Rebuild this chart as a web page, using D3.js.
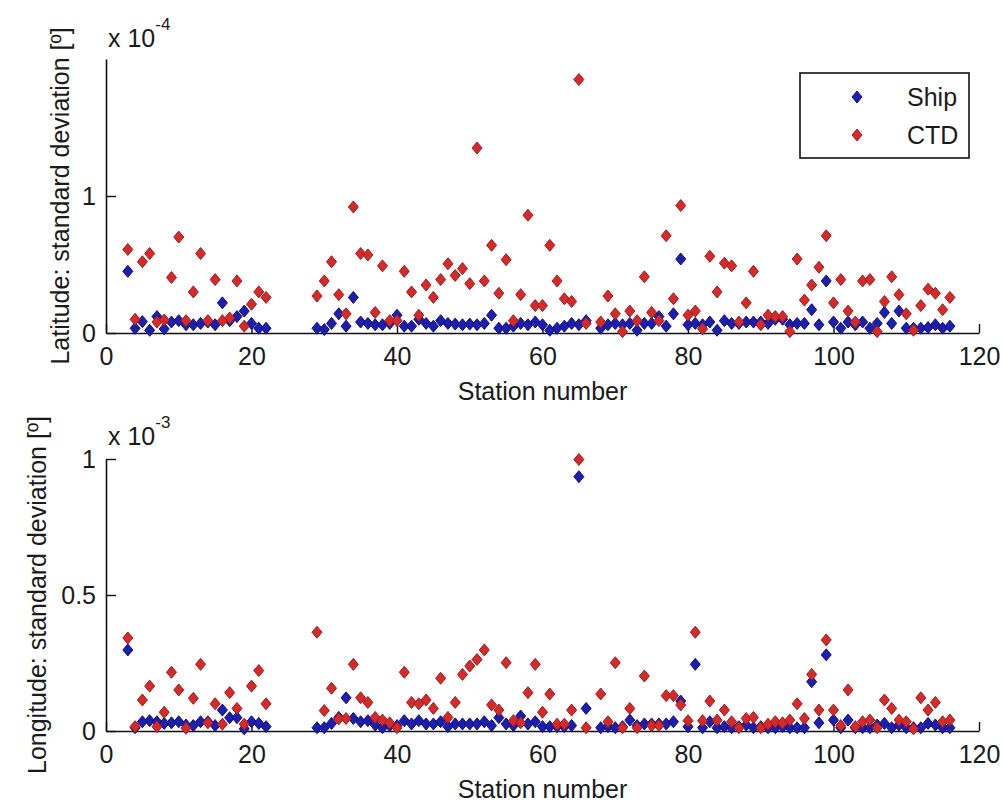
<!DOCTYPE html>
<html>
<head>
<meta charset="utf-8">
<script src="https://cdn.jsdelivr.net/npm/d3@7"></script>
<style>
  html, body { margin: 0; padding: 0; background: #fff; }
  svg { display: block; }
  text { font-family: "Liberation Sans", Arial, Helvetica, sans-serif; fill: #1a1a1a; }
</style>
</head>
<body>
<svg id="chart" width="1002" height="803"></svg>
<script>
// Station numbers (no stations 23-28 and 67)
const stations = [
  3,4,5,6,7,8,9,10,11,12,13,14,15,16,17,18,19,20,21,22,
  29,30,31,32,33,34,35,36,37,38,39,40,41,42,43,44,45,46,47,48,49,50,
  51,52,53,54,55,56,57,58,59,60,61,62,63,64,65,66,
  68,69,70,71,72,73,74,75,76,77,78,79,80,81,82,83,84,85,86,87,88,89,90,
  91,92,93,94,95,96,97,98,99,100,101,102,103,104,105,106,107,108,109,110,
  111,112,113,114,115,116
];

// Latitude standard deviation, in units of 1e-4 degrees
const latExponent = -4;
const shipLat = [
  0.45,0.034,0.083,0.02,0.12,0.03,0.08,0.09,0.06,0.06,0.07,0.08,0.06,0.22,0.09,0.12,0.16,0.07,0.035,0.035,
  0.035,0.025,0.07,0.14,0.05,0.26,0.08,0.07,0.06,0.06,0.07,0.13,0.05,0.05,0.10,0.07,0.05,0.09,0.07,0.065,0.06,0.065,
  0.06,0.07,0.13,0.035,0.035,0.05,0.07,0.06,0.08,0.06,0.02,0.035,0.05,0.07,0.06,0.09,
  0.035,0.06,0.07,0.06,0.07,0.02,0.07,0.07,0.12,0.05,0.14,0.54,0.06,0.07,0.06,0.08,0.02,0.09,0.07,0.07,0.08,0.08,0.08,
  0.07,0.10,0.10,0.06,0.07,0.07,0.17,0.06,0.38,0.08,0.035,0.08,0.06,0.08,0.035,0.07,0.15,0.07,0.16,0.035,
  0.035,0.035,0.04,0.06,0.035,0.05
];
const ctdLat = [
  0.61,0.10,0.52,0.58,0.08,0.095,0.405,0.70,0.09,0.30,0.58,0.09,0.39,0.09,0.11,0.38,0.05,0.21,0.30,0.26,
  0.27,0.38,0.52,0.28,0.14,0.92,0.58,0.57,0.15,0.49,0.09,0.09,0.45,0.30,0.13,0.35,0.26,0.39,0.505,0.42,0.47,0.36,
  1.35,0.38,0.64,0.29,0.535,0.09,0.28,0.86,0.20,0.20,0.64,0.38,0.25,0.23,1.85,0.07,
  0.08,0.27,0.14,0.01,0.16,0.09,0.41,0.15,0.09,0.71,0.25,0.93,0.13,0.16,0.03,0.56,0.30,0.51,0.49,0.08,0.22,0.45,0.06,
  0.13,0.12,0.12,0.01,0.54,0.24,0.35,0.48,0.71,0.22,0.39,0.16,0.08,0.38,0.39,0.01,0.23,0.41,0.28,0.14,
  0.02,0.20,0.32,0.29,0.17,0.26
];

// Longitude standard deviation, in units of 1e-3 degrees
const lonExponent = -3;
const shipLon = [
  0.298,0.012,0.034,0.038,0.034,0.028,0.03,0.034,0.022,0.02,0.034,0.034,0.02,0.077,0.049,0.049,0.008,0.034,0.028,0.016,
  0.012,0.012,0.028,0.05,0.122,0.046,0.034,0.038,0.022,0.012,0.02,0.02,0.038,0.026,0.038,0.026,0.026,0.034,0.016,0.026,0.026,0.026,
  0.026,0.034,0.02,0.049,0.026,0.02,0.055,0.026,0.034,0.016,0.016,0.016,0.016,0.02,0.935,0.083,
  0.012,0.016,0.012,0.016,0.04,0.02,0.026,0.026,0.026,0.026,0.034,0.11,0.016,0.245,0.012,0.034,0.012,0.016,0.012,0.016,0.022,0.012,0.016,
  0.012,0.012,0.016,0.012,0.012,0.012,0.181,0.03,0.28,0.04,0.012,0.04,0.012,0.012,0.012,0.022,0.028,0.012,0.022,0.012,
  0.012,0.012,0.028,0.022,0.012,0.012
];
const ctdLon = [
  0.342,0.016,0.114,0.165,0.016,0.069,0.216,0.151,0.01,0.12,0.245,0.03,0.1,0.025,0.141,0.083,0.025,0.165,0.222,0.1,
  0.363,0.075,0.157,0.045,0.046,0.245,0.122,0.105,0.05,0.04,0.03,0.012,0.216,0.105,0.1,0.114,0.083,0.194,0.05,0.105,0.208,0.239,
  0.263,0.298,0.096,0.077,0.251,0.038,0.03,0.141,0.245,0.069,0.136,0.025,0.025,0.077,0.998,0.012,
  0.136,0.034,0.251,0.012,0.083,0.012,0.202,0.02,0.02,0.13,0.13,0.096,0.038,0.363,0.038,0.11,0.04,0.077,0.034,0.012,0.046,0.05,0.012,
  0.025,0.034,0.03,0.04,0.1,0.046,0.208,0.077,0.335,0.077,0.02,0.151,0.016,0.034,0.04,0.012,0.114,0.083,0.04,0.034,
  0.008,0.122,0.077,0.105,0.034,0.04
];

const xTicks = [0, 20, 40, 60, 80, 100, 120];
const latTicks = [0, 1];
const lonTicks = [0, 0.5, 1];
const seriesNames = ["Ship", "CTD"];
const xLabel = "Station number";
const latLabel = "Latitude: standard deviation [º]";
const lonLabel = "Longitude: standard deviation [º]";

const colors = {
  Ship: { fill: "#1e1eae", stroke: "#10107a" },
  CTD:  { fill: "#d62a2a", stroke: "#9c1e1e" }
};

const svg = d3.select("#chart");
const FONT = 25;

const x = d3.scaleLinear().domain([0, 120]).range([106, 979]);

// diamond marker centred at (cx, cy)
function diamond(cx, cy) {
  const w = 5, h = 6;
  return `M${cx},${cy - h}L${cx + w},${cy}L${cx},${cy + h}L${cx - w},${cy}Z`;
}

function fmt(v) { return v === 0 ? "0" : (Number.isInteger(v) ? String(v) : String(v)); }

function drawPanel(opts) {
  const { y, yTicks, ship, ctd, ylabel, ylabelX, exponent, expY } = opts;
  const g = svg.append("g");

  // x axis (ticks point inward)
  const xAxis = d3.axisBottom(x).tickValues(xTicks).tickSizeInner(-9).tickSizeOuter(0)
    .tickPadding(14).tickFormat(d3.format("d"));
  const gx = g.append("g").attr("transform", `translate(0,${y.range()[0]})`).call(xAxis);

  // y axis (ticks point inward)
  const yAxis = d3.axisLeft(y).tickValues(yTicks).tickSizeInner(-10).tickSizeOuter(0)
    .tickPadding(10).tickFormat(fmt);
  const gy = g.append("g").attr("transform", `translate(${x.range()[0]},0)`).call(yAxis);

  [gx, gy].forEach(a => {
    a.select(".domain").attr("stroke", "#111").attr("stroke-width", 1.6);
    a.selectAll(".tick line").attr("stroke", "#111").attr("stroke-width", 1.4);
    a.selectAll(".tick text").attr("font-size", FONT)
      .attr("font-family", '"Liberation Sans", Arial, sans-serif').attr("fill", "#1a1a1a");
  });

  // exponent label above the y axis
  const ex = g.append("text").attr("x", 108).attr("y", expY).attr("font-size", FONT);
  ex.append("tspan").text("x 10");
  ex.append("tspan").attr("dy", -17).attr("font-size", 17).text(String(exponent));

  // axis titles
  g.append("text").attr("x", (x.range()[0] + x.range()[1]) / 2).attr("y", y.range()[0] + 67)
    .attr("text-anchor", "middle").attr("font-size", FONT).text(xLabel);
  g.append("text")
    .attr("transform", `translate(${ylabelX},${(y.range()[0] + y.range()[1]) / 2}) rotate(-90)`)
    .attr("text-anchor", "middle").attr("font-size", FONT).text(ylabel);

  // markers: Ship first, CTD on top
  [["Ship", ship], ["CTD", ctd]].forEach(([name, vals]) => {
    g.append("g").selectAll("path").data(stations.map((s, i) => [s, vals[i]]))
      .join("path")
      .attr("d", d => diamond(x(d[0]), y(d[1])))
      .attr("fill", colors[name].fill)
      .attr("stroke", colors[name].stroke)
      .attr("stroke-width", 1);
  });
}

drawPanel({
  y: d3.scaleLinear().domain([0, 2]).range([333, 59]),
  yTicks: latTicks, ship: shipLat, ctd: ctdLat,
  ylabel: latLabel, ylabelX: 69, exponent: latExponent, expY: 47
});

drawPanel({
  y: d3.scaleLinear().domain([0, 1]).range([731, 459]),
  yTicks: lonTicks, ship: shipLon, ctd: ctdLon,
  ylabel: lonLabel, ylabelX: 46, exponent: lonExponent, expY: 445
});

// legend
const lg = svg.append("g");
lg.append("rect").attr("x", 800).attr("y", 73).attr("width", 169).attr("height", 85)
  .attr("fill", "#fff").attr("stroke", "#111").attr("stroke-width", 1.6);
seriesNames.forEach((name, i) => {
  const cy = 97 + i * 38;
  lg.append("path").attr("d", diamond(857, cy))
    .attr("fill", colors[name].fill).attr("stroke", colors[name].stroke).attr("stroke-width", 1);
  lg.append("text").attr("x", 907).attr("y", cy + 9).attr("font-size", FONT).text(name);
});
</script>
</body>
</html>
